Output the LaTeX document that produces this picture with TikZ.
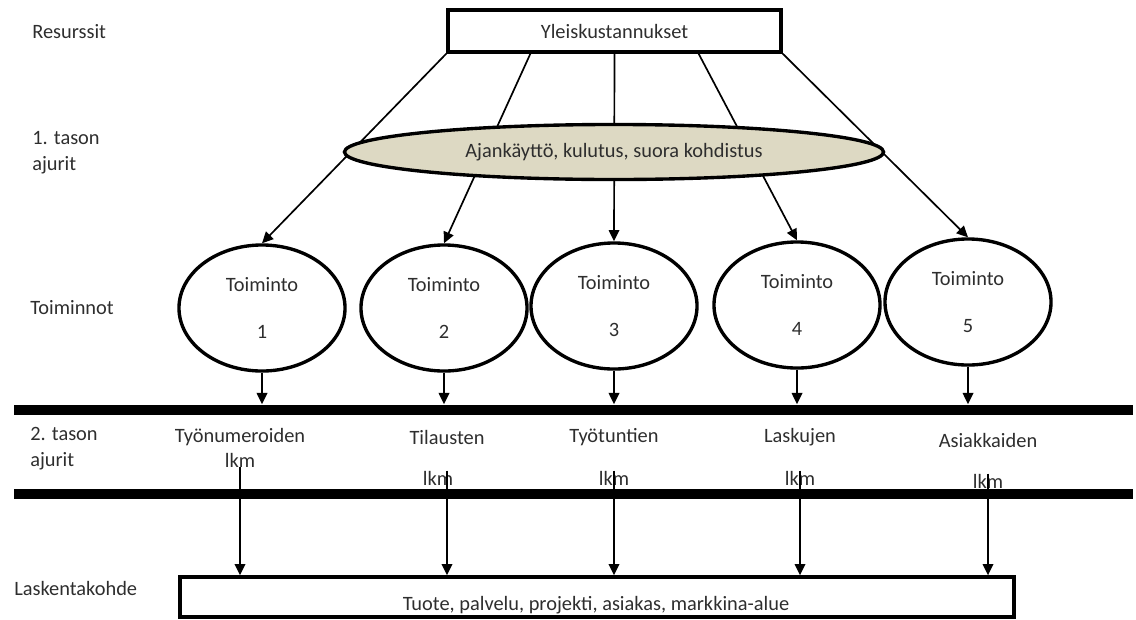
\documentclass[tikz,border=0pt]{standalone}
\usepackage{fontspec}
\setmainfont{Carlito}
\usetikzlibrary{arrows.meta,positioning,calc,shapes.geometric}
\definecolor{driverfill}{HTML}{DDD9C3}
\definecolor{txtgray}{HTML}{2E2E2E}
\tikzset{
  lbl/.style={font=\fontsize{14.5}{18.5}\selectfont,text=txtgray,inner sep=0pt},
  rowlbl/.style={lbl,anchor=west,align=left},
  box/.style={draw,line width=2.4pt,rectangle,lbl},
  act/.style={draw,line width=2.4pt,ellipse,minimum width=4.15cm,minimum height=3.15cm,lbl,align=center},
  drv/.style={draw,line width=2.4pt,ellipse,fill=driverfill,minimum width=13.475cm,minimum height=1.375cm,lbl},
  bar/.style={fill=black,minimum width=27.975cm,minimum height=0.25cm,inner sep=0pt},
  link/.style={line width=1.2pt},
  arr/.style={link,-{Triangle[length=8pt,width=7.5pt]}},
}
\begin{document}
\begin{tikzpicture}[x=0.025cm,y=-0.025cm]
\useasboundingbox (0,0) rectangle (1136,619);
% row labels
\node[rowlbl] (rres) at (32,32) {Resurssit};
\node[rowlbl] (rdrv1) at (32,153) {1. tason\\ajurit};
\node[rowlbl] (ract) at (30,308) {Toiminnot};
\node[rowlbl] (rdrv2) at (30,449) {2. tason\\ajurit};
\node[rowlbl] (robj) at (14,588) {Laskentakohde};
% resources and activities
\node[box,minimum width=8.325cm,minimum height=1.05cm] (yk) at (614.5,31) {Yleiskustannukset};
\node[act] (t1) at (262,308) {Toiminto\\[15pt]1};
\node[act] (t2) at (444,308) {Toiminto\\[15pt]2};
\node[act] (t3) at (614,306) {Toiminto\\[15pt]3};
\node[act] (t4) at (797,305) {Toiminto\\[15pt]4};
\node[act] (t5) at (968,302) {Toiminto\\[15pt]5};
\draw[arr] (yk.south west) -- (t1.north);
\draw[arr] ($(yk.south west)!0.25!(yk.south east)$) -- (t2.north);
\draw[arr] (yk.south) -- (t3.north);
\draw[arr] ($(yk.south west)!0.75!(yk.south east)$) -- (t4.north);
\draw[arr] (yk.south east) -- (t5.north);
\node[drv] (aj) at (614,152) {Ajankäyttö, kulutus, suora kohdistus};
% 2nd level drivers
\node[bar] (b1) at (573.5,409.5) {};
\node[bar] (b2) at (573.5,494) {};
\draw[arr] (t1.south) -- (t1.south |- b1.north);
\draw[arr] (t2.south) -- (t2.south |- b1.north);
\draw[arr] (t3.south) -- (t3.south |- b1.north);
\draw[arr] (t4.south) -- (t4.south |- b1.north);
\draw[arr] (t5.south) -- (t5.south |- b1.north);
\node[lbl] (n1) at (240,437) {Työnumeroiden};
\node[lbl] (k1) at (240,460) {lkm};
\node[lbl] (n2) at (447,437) {Tilausten};
\node[lbl] (k2) at (438,478) {lkm};
\node[lbl] (n3) at (614,437) {Työtuntien};
\node[lbl] (k3) at (614,478) {lkm};
\node[lbl] (n4) at (800,437) {Laskujen};
\node[lbl] (k4) at (800,478) {lkm};
\node[lbl] (n5) at (988,440) {Asiakkaiden};
\node[lbl] (k5) at (988,481) {lkm};
% cost object
\node[box,minimum width=20.85cm,minimum height=1cm] (kohde) at (597,597) {};
\node[lbl,anchor=base] (kohdetxt) at (596,610) {Tuote, palvelu, projekti, asiakas, markkina-alue};
\draw[arr] (k1.south) -- (k1.south |- kohde.north);
\draw[arr] (n2 |- k2.north) -- (n2 |- kohde.north);
\draw[arr] (n3 |- k3.north) -- (n3 |- kohde.north);
\draw[arr] (n4 |- k4.north) -- (n4 |- kohde.north);
\draw[arr] (n5 |- k5.north) -- (n5 |- kohde.north);
\end{tikzpicture}
\end{document}
